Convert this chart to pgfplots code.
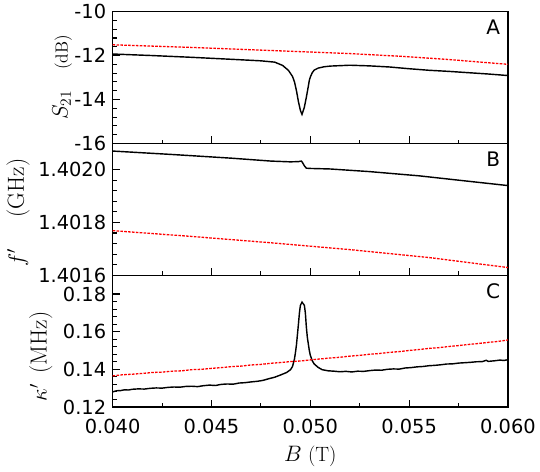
\documentclass[border=0pt]{standalone}
\usepackage{fontspec}
\setsansfont{DejaVu Sans}
\usepackage{pgfplots}
\pgfplotsset{compat=1.18}
\usepgfplotslibrary{groupplots}
\usetikzlibrary{calc}

% sizes are set inside the label texts
\newcommand\tf{\fontsize{15}{18}\selectfont\sffamily}
\newcommand\lf{\fontsize{16}{19}\selectfont}
\newcommand\uf{\fontsize{18}{21}\selectfont}
\newcommand\sym{\fontsize{18}{21}\selectfont}
\newcommand\panfont{\fontsize{15.5}{18}\selectfont\sffamily}

\begin{document}
\begin{tikzpicture}
\begin{groupplot}[
  group style={group size=1 by 3, vertical sep=0pt, xticklabels at=edge bottom},
  scale only axis, width=306pt, height=102pt,
  xmin=0.040, xmax=0.060,
  xtick={0.040,0.045,0.050,0.055,0.060},
  xticklabels={\tf 0.040,\tf 0.045,\tf 0.050,\tf 0.055,\tf 0.060},
  minor x tick num=1, minor y tick num=4,
  tick align=inside, xtick pos=left, ytick pos=left,
  major tick length=5.5pt, minor tick length=3pt,
  axis line style={line width=0.9pt},
  tick style={line width=0.8pt, black},
  scaled ticks=false,
  xticklabel style={anchor=north, yshift=-6pt},
  yticklabel style={anchor=east, xshift=-1.5pt},
  clip mode=individual,
]
% ---------- A : transmission ----------
\nextgroupplot[ymin=-16, ymax=-10, ytick={-16,-14,-12,-10},
  yticklabels={\tf -16,\tf -14,\tf -12,\tf -10},
  ylabel={{\sym$S_{21}$}\hspace{16pt}{\fontsize{13.5}{16}\selectfont(dB)}},
  ylabel style={at={($(rel axis cs:0,0.5)+(-28pt,0)$)}, anchor=south}]
\addplot[black, line width=1.1pt] coordinates {
  (0.0400,-11.93) (0.0420,-12.00) (0.0440,-12.08) (0.0460,-12.17)
  (0.0475,-12.24) (0.0482,-12.30) (0.0486,-12.45) (0.0489,-12.68)
  (0.0491,-12.95) (0.0492,-13.20) (0.0493,-13.60) (0.0494,-14.10)
  (0.0495,-14.50) (0.04958,-14.68) (0.0497,-14.35) (0.0498,-13.90)
  (0.0499,-13.40) (0.04995,-13.13) (0.0500,-12.98) (0.0501,-12.78)
  (0.0502,-12.66) (0.0504,-12.57) (0.0507,-12.51) (0.0510,-12.48)
  (0.0520,-12.44) (0.0530,-12.47) (0.0540,-12.52) (0.0550,-12.60)
  (0.0560,-12.67) (0.0570,-12.72) (0.0580,-12.78) (0.0590,-12.84)
  (0.0600,-12.91)
};
\addplot[red, line width=1pt, dash pattern=on 2pt off 1pt] coordinates {
  (0.040,-11.51) (0.044,-11.63) (0.048,-11.77) (0.052,-11.91)
  (0.0545,-12.03) (0.057,-12.18) (0.060,-12.40)
};
\node[anchor=north east, inner sep=0pt, font=\panfont]
  at (rel axis cs:0.981,0.94) {A};
% ---------- B : frequency (MHz above 1401.6 MHz) ----------
\nextgroupplot[ymin=0, ymax=0.5, ytick={0,0.2,0.4},
  yticklabels={\tf 1.4016,\tf 1.4018,\tf 1.4020},
  ylabel={{\sym$f'$}\hspace{24pt}{\uf(GHz)}},
  ylabel style={at={($(rel axis cs:0,0.5)+(-59pt,-2.5pt)$)}, anchor=south,
    inner ysep=5pt}]
\addplot[black, line width=1.1pt] coordinates {
  (0.0400,0.471) (0.0430,0.458) (0.0460,0.444) (0.0480,0.433)
  (0.0490,0.430) (0.0494,0.431) (0.04955,0.433) (0.0496,0.428)
  (0.0497,0.415) (0.0498,0.406) (0.0500,0.405) (0.0510,0.403)
  (0.0530,0.393) (0.0555,0.377) (0.0578,0.358) (0.0600,0.340)
};
\addplot[red, line width=1pt, dash pattern=on 2pt off 1pt] coordinates {
  (0.040,0.169) (0.044,0.147) (0.048,0.123) (0.052,0.097)
  (0.056,0.067) (0.060,0.029)
};
\node[anchor=north east, inner sep=0pt, font=\panfont]
  at (rel axis cs:0.981,0.94) {B};
% ---------- C : linewidth ----------
\nextgroupplot[ymin=0.12, ymax=0.19, ytick={0.12,0.14,0.16,0.18},
  yticklabels={\tf 0.12,\tf 0.14,\tf 0.16,\tf 0.18},
  ylabel={{\sym$\kappa'$}\hspace{8pt}{\uf(MHz)}},
  xlabel={\lf $B$ (T)},
  ylabel style={at={($(rel axis cs:0,0.5)+(-43pt,-12pt)$)}, anchor=south},
  xlabel style={at={($(rel axis cs:0.5,0)+(0,-27pt)$)}, anchor=north}]
\addplot[black, line width=1.1pt] coordinates {
  (0.0400,0.1280) (0.0402,0.1286) (0.0404,0.1287) (0.0406,0.1291)
  (0.0408,0.1290) (0.0410,0.1294) (0.0413,0.1296) (0.0416,0.1295)
  (0.0419,0.1299) (0.0422,0.1301) (0.0425,0.1300) (0.0428,0.1304)
  (0.0431,0.1306) (0.0434,0.1305) (0.0437,0.1309) (0.0440,0.1310)
  (0.0443,0.1308) (0.0446,0.1313) (0.0449,0.1316) (0.0452,0.1314)
  (0.0455,0.1320) (0.0458,0.1322) (0.0461,0.1321) (0.0464,0.1327)
  (0.0467,0.1329) (0.0470,0.1333) (0.0473,0.1336) (0.0476,0.1341)
  (0.0479,0.1350) (0.0482,0.1358) (0.0485,0.1370) (0.0488,0.1383)
  (0.0490,0.1398) (0.0491,0.1415) (0.0492,0.1455) (0.04925,0.1490)
  (0.0493,0.1530) (0.04935,0.1585) (0.0494,0.1640) (0.04945,0.1700)
  (0.0495,0.1740) (0.04958,0.1757) (0.0497,0.1740) (0.04975,0.1700)
  (0.0498,0.1625) (0.04985,0.1570) (0.0499,0.1535) (0.04995,0.1500)
  (0.0500,0.1475) (0.0501,0.1445) (0.0502,0.1428) (0.0504,0.1410)
  (0.0506,0.1398) (0.0509,0.1392) (0.0512,0.1390) (0.0515,0.1387)
  (0.0518,0.1389) (0.0521,0.1386) (0.0524,0.1390) (0.0527,0.1389)
  (0.0530,0.1393) (0.0533,0.1396) (0.0536,0.1395) (0.0539,0.1400)
  (0.0542,0.1402) (0.0545,0.1401) (0.0548,0.1407) (0.0551,0.1409)
  (0.0554,0.1413) (0.0557,0.1415) (0.0560,0.1419) (0.0563,0.1421)
  (0.0566,0.1424) (0.0569,0.1428) (0.0572,0.1429) (0.0575,0.1433)
  (0.0578,0.1435) (0.0581,0.1437) (0.0584,0.1440) (0.0587,0.1441)
  (0.0589,0.1448) (0.0590,0.1442) (0.0593,0.1445) (0.0596,0.1449)
  (0.0598,0.1447) (0.0600,0.1451)
};
\addplot[red, line width=1pt, dash pattern=on 2pt off 1pt] coordinates {
  (0.0400,0.1365) (0.0405,0.1371) (0.0410,0.1374) (0.0415,0.1378)
  (0.0420,0.1383) (0.0425,0.1385) (0.0430,0.1390) (0.0435,0.1392)
  (0.0440,0.1398) (0.0445,0.1400) (0.0450,0.1405) (0.0455,0.1409)
  (0.0460,0.1414) (0.0465,0.1417) (0.0470,0.1423) (0.0475,0.1426)
  (0.0480,0.1432) (0.0485,0.1436) (0.0490,0.1441) (0.0495,0.1444)
  (0.0500,0.1450) (0.0505,0.1455) (0.0510,0.1460) (0.0515,0.1464)
  (0.0520,0.1470) (0.0525,0.1474) (0.0530,0.1480) (0.0535,0.1484)
  (0.0540,0.1490) (0.0545,0.1494) (0.0550,0.1500) (0.0555,0.1505)
  (0.0560,0.1511) (0.0565,0.1515) (0.0570,0.1521) (0.0575,0.1526)
  (0.0580,0.1532) (0.0585,0.1537) (0.0590,0.1543) (0.0595,0.1548)
  (0.0600,0.1556)
};
\node[anchor=north east, inner sep=0pt, font=\panfont]
  at (rel axis cs:0.981,0.94) {C};
\end{groupplot}
\end{tikzpicture}
\end{document}
